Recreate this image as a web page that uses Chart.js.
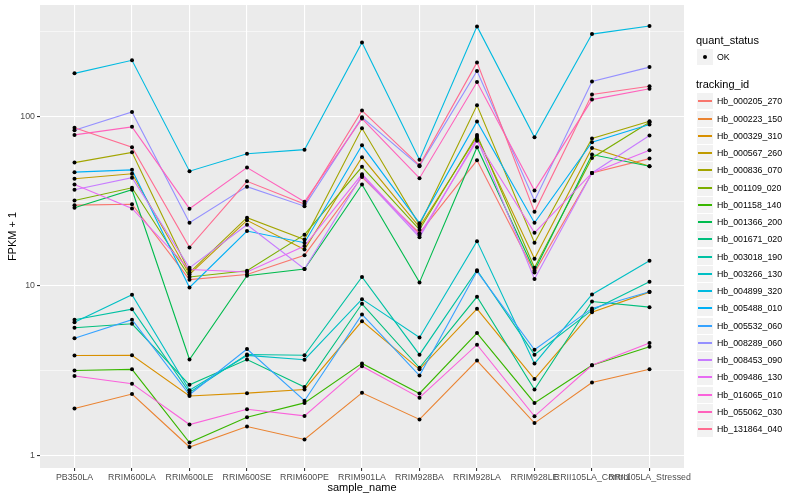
<!DOCTYPE html>
<html>
<head>
<meta charset="utf-8">
<script src="https://cdn.jsdelivr.net/npm/chart.js@4.4.0/dist/chart.umd.min.js"></script>
<style>
body { margin: 0; background: #fff; font-family: "Liberation Sans", Arial, sans-serif; }
#wrap { position: relative; width: 800px; height: 500px; }
#chart { position: absolute; left: 0; top: 0; }
.ltitle { position: absolute; left: 696px; font-size: 11px; line-height: 13px; color: #000; white-space: nowrap; }
.key { position: absolute; left: 697px; width: 16px; height: 16px; background: #F2F2F2; }
.key-line { position: absolute; left: 1px; width: 14px; top: 7.3px; height: 1.4px; }
.key-dot { position: absolute; left: 6px; top: 6px; width: 4px; height: 4px; border-radius: 2px; background: #000; }
.llabel { position: absolute; left: 717px; font-size: 8.8px; line-height: 10px; color: #000; white-space: nowrap; }
</style>
</head>
<body>
<div id="wrap">
  <canvas id="chart" width="800" height="500"></canvas>
  <div id="legend"></div>
</div>
<script>
const categories = ['PB350LA', 'RRIM600LA', 'RRIM600LE', 'RRIM600SE', 'RRIM600PE', 'RRIM901LA',
    'RRIM928BA', 'RRIM928LA', 'RRIM928LE', 'RRII105LA_Control', 'RRII105LA_Stressed'];

const seriesNames = ['Hb_000205_270', 'Hb_000223_150', 'Hb_000329_310', 'Hb_000567_260', 'Hb_000836_070',
    'Hb_001109_020', 'Hb_001158_140', 'Hb_001366_200', 'Hb_001671_020', 'Hb_003018_190',
    'Hb_003266_130', 'Hb_004899_320', 'Hb_005488_010', 'Hb_005532_060', 'Hb_008289_060',
    'Hb_008453_090', 'Hb_009486_130', 'Hb_016065_010', 'Hb_055062_030', 'Hb_131864_040'];

const seriesColors = ['#F8766D', '#EA8331', '#D89000', '#C09B00', '#A3A500', '#7CAE00', '#39B600', '#00BB4E',
    '#00BF7D', '#00C1A3', '#00BFC4', '#00BAE0', '#00B0F6', '#35A2FF', '#9590FF', '#C77CFF',
    '#E76BF3', '#FA62DB', '#FF62BC', '#FF6C91'];

// FPKM + 1 par échantillon
const hb000205 = [30, 30.4, 10.9, 11.7, 15.2, 44.0, 20.5, 55.2, 12.0, 46.5, 56.5];
const hb000223 = [1.89, 2.30, 1.12, 1.48, 1.24, 2.34, 1.63, 3.63, 1.55, 2.69, 3.22];
const hb000329 = [3.89, 3.90, 2.24, 2.33, 2.45, 6.2, 3.22, 7.33, 2.82, 7.0, 9.2];
const hb000567 = [43, 46, 11.7, 24.4, 16.4, 57.5, 22.3, 76, 14.5, 65.3, 50.9];
const hb000836 = [53.5, 61.5, 12.0, 25.3, 18.8, 85.3, 22.9, 116.6, 18.0, 74.2, 93.8];
const hb001109 = [32, 38, 11.3, 12.3, 20.1, 50.5, 21.5, 78, 12.8, 57.0, 92.7];
const hb001158 = [3.17, 3.22, 1.19, 1.68, 2.04, 3.49, 2.32, 5.27, 2.04, 3.40, 4.38];
const hb001366 = [29, 37, 3.68, 11.5, 12.6, 39.7, 10.5, 66, 12.3, 59.7, 50.9];
const hb001671 = [5.67, 5.98, 2.61, 3.68, 2.53, 7.85, 3.29, 8.63, 2.45, 8.1, 7.5];
const hb003018 = [6.32, 7.3, 2.35, 3.94, 3.9, 11.3, 3.93, 12.4, 3.93, 7.2, 10.6];
const hb003266 = [6.1, 8.87, 2.42, 3.89, 3.67, 8.36, 4.97, 18.4, 3.48, 8.91, 14.1];
const hb004899 = [180, 215, 47.6, 60.3, 63.8, 274, 55.7, 341, 75.5, 307, 343];
const hb005488 = [47, 48.5, 9.8, 21.1, 18.0, 67.7, 23.5, 93.7, 23.6, 70.6, 89.8];
const hb005532 = [4.92, 6.32, 2.28, 4.24, 2.1, 6.79, 2.96, 12.2, 4.2, 7.37, 9.24];
const hb008289 = [83, 106.6, 23.6, 38.6, 29.6, 99, 51, 186, 31.9, 161, 196];
const hb008453 = [37, 43.6, 12.8, 23.0, 12.6, 44.9, 19.4, 74, 11.0, 46.5, 77.3];
const hb009486 = [39.7, 28.7, 12.5, 12.1, 17.2, 45.7, 20.0, 72, 20.6, 46.5, 63.3];
const hb016065 = [2.94, 2.65, 1.52, 1.87, 1.71, 3.36, 2.19, 4.5, 1.70, 3.40, 4.6];
const hb055062 = [78, 87, 28.6, 50, 31.4, 97.3, 43.3, 160, 36.6, 126, 146];
const hb131864 = [86, 66, 16.9, 41.5, 30.5, 108.5, 51.6, 209, 27.4, 135, 151];

const seriesValues = [hb000205, hb000223, hb000329, hb000567, hb000836, hb001109, hb001158, hb001366,
    hb001671, hb003018, hb003266, hb004899, hb005488, hb005532, hb008289, hb008453, hb009486,
    hb016065, hb055062, hb131864];

const majorTicks = [1, 10, 100];
const minorTicks = [3.162, 31.62, 316.2];

const fontFamily = '"Liberation Sans", Arial, sans-serif';

// --- légende (html) ---
const legend = document.getElementById('legend');
function addEl(cls, top, text) {
    const el = document.createElement('div');
    el.className = cls;
    el.style.top = top + 'px';
    if (text) el.textContent = text;
    legend.appendChild(el);
    return el;
}
addEl('ltitle', 34, 'quant_status');
const okKey = addEl('key', 49);
okKey.appendChild(Object.assign(document.createElement('div'), { className: 'key-dot' }));
addEl('llabel', 52, 'OK');
addEl('ltitle', 78, 'tracking_id');
seriesNames.forEach((name, i) => {
    const cy = Math.round(101.3 + i * 17.25);
    const key = addEl('key', cy - 8);
    const line = document.createElement('div');
    line.className = 'key-line';
    line.style.backgroundColor = seriesColors[i];
    key.appendChild(line);
    addEl('llabel', cy - 5, name);
});

// --- fond du panneau ---
const panelBg = {
    id: 'panelBg',
    beforeDraw(chart) {
        const { ctx, chartArea: a } = chart;
        ctx.save();
        ctx.fillStyle = '#EBEBEB';
        ctx.fillRect(a.left, a.top, a.right - a.left, a.bottom - a.top);
        ctx.restore();
    }
};

const datasets = seriesValues.map((vals, i) => ({
    label: seriesNames[i],
    data: vals.map((v, j) => ({ x: j, y: v })),
    borderColor: seriesColors[i],
    borderWidth: 1.1,
    pointRadius: 0,
    tension: 0,
    order: 21 - i
}));

// points "OK" par-dessus toutes les lignes
datasets.push({
    label: 'OK',
    data: seriesValues.flatMap(vals => vals.map((v, j) => ({ x: j, y: v }))),
    showLine: false,
    pointRadius: 2,
    pointBackgroundColor: '#000',
    pointBorderWidth: 0,
    order: 0
});

const isMajor = c => c.tick && majorTicks.includes(c.tick.value);

new Chart(document.getElementById('chart'), {
    type: 'line',
    data: { datasets },
    options: {
        responsive: false,
        animation: false,
        layout: { padding: { top: 5, right: 116, left: 0, bottom: 0 } },
        plugins: { legend: { display: false }, tooltip: { enabled: false } },
        scales: {
            x: {
                type: 'linear',
                min: -0.6,
                max: 10.6,
                afterBuildTicks: s => { s.ticks = categories.map((c, i) => ({ value: i })); },
                afterFit: s => { s.height = 32; s.paddingLeft = 0; s.paddingRight = 0; },
                ticks: {
                    callback: v => categories[v],
                    autoSkip: false, maxRotation: 0, minRotation: 0,
                    color: '#4D4D4D', font: { family: fontFamily, size: 8.8 }, padding: 1
                },
                grid: { color: '#fff', lineWidth: 1.1, tickColor: '#333', tickLength: 3 },
                border: { display: false },
                title: {
                    display: true, text: 'sample_name', color: '#000',
                    font: { family: fontFamily, size: 11 }, padding: { top: 0, bottom: 5 }
                }
            },
            y: {
                type: 'logarithmic',
                min: 0.842,
                max: 456,
                afterBuildTicks: s => {
                    s.ticks = majorTicks.concat(minorTicks).sort((a, b) => a - b).map(v => ({ value: v }));
                },
                afterFit: s => { s.width = 40; s.paddingTop = 0; s.paddingBottom = 0; },
                ticks: {
                    callback: v => majorTicks.includes(v) ? String(v) : '',
                    color: '#4D4D4D', font: { family: fontFamily, size: 8.8 }, padding: 2
                },
                grid: {
                    color: '#fff',
                    lineWidth: c => isMajor(c) ? 1.1 : 0.55,
                    tickColor: c => isMajor(c) ? '#333' : 'rgba(0,0,0,0)',
                    tickLength: 3
                },
                border: { display: false },
                title: {
                    display: true, text: 'FPKM + 1', color: '#000',
                    font: { family: fontFamily, size: 11 }, padding: { top: 6, bottom: 0 }
                }
            }
        }
    },
    plugins: [panelBg]
});
</script>
</body>
</html>
